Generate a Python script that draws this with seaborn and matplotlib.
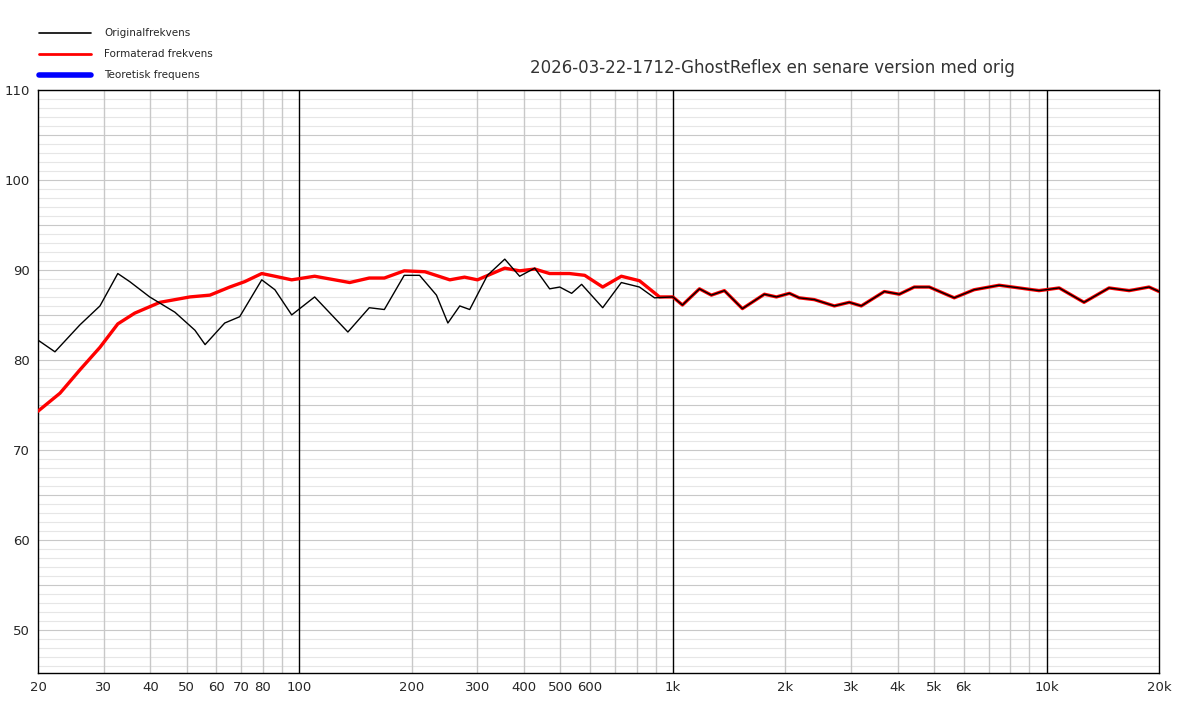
import numpy as np
import pandas as pd
import matplotlib
matplotlib.use("Agg")
import matplotlib.pyplot as plt
import seaborn as sns
from matplotlib.lines import Line2D

orig_f = [20, 22.2, 25.9, 29.3, 32.7, 35.2, 39.8, 46.5, 52.6, 56, 63.2, 69.3, 79.4, 86.1, 95.5,
          110, 135, 154, 169, 191, 210, 233, 250, 269, 286, 319, 355, 389, 427, 468, 498, 536,
          570, 649, 728, 814, 893]
orig_db = [82.2, 80.9, 83.9, 86.0, 89.6, 88.7, 87.0, 85.3, 83.3, 81.7, 84.1, 84.8, 88.9, 87.8, 85.0,
           87.0, 83.1, 85.8, 85.6, 89.4, 89.4, 87.2, 84.1, 86.0, 85.6, 89.4, 91.2, 89.3, 90.2, 87.9,
           88.1, 87.4, 88.4, 85.8, 88.6, 88.1, 86.9]
form_f = [20, 22.9, 25.9, 29.3, 32.7, 36.3, 42.4, 51, 57.7, 65.2, 71.5, 79.4, 86.1, 95.5, 110, 136.5,
          154, 169, 191, 217, 253, 277, 300, 355, 389, 427, 468, 529, 581, 649, 728, 814, 921]
form_db = [74.3, 76.3, 78.9, 81.4, 84.0, 85.2, 86.4, 87.0, 87.2, 88.1, 88.7, 89.6, 89.3, 88.9, 89.3,
           88.6, 89.1, 89.1, 89.9, 89.8, 88.9, 89.2, 88.9, 90.2, 89.9, 90.1, 89.6, 89.6, 89.4, 88.1,
           89.3, 88.8, 87.0]
hi_f = [1000, 1061, 1178, 1268, 1374, 1535, 1758, 1893, 2051, 2178, 2392, 2705, 2966, 3194, 3681,
        4037, 4427, 4855, 5663, 6402, 7468, 8450, 9551, 10810, 12600, 14700, 16640, 18810, 20000]
hi_db = [87.0, 86.1, 87.9, 87.2, 87.7, 85.7, 87.3, 87.0, 87.4, 86.9, 86.7, 86.0, 86.4, 86.0, 87.6,
         87.3, 88.1, 88.1, 86.9, 87.8, 88.3, 88.0, 87.7, 88.0, 86.4, 88.0, 87.7, 88.1, 87.6]
tick_vals = [20, 30, 40, 50, 60, 70, 80, 100, 200, 300, 400, 500, 600, 1000, 2000, 3000, 4000,
             5000, 6000, 10000, 20000]
tick_labels = ["20", "30", "40", "50", "60", "70", "80", "100", "200", "300", "400", "500", "600",
               "1k", "2k", "3k", "4k", "5k", "6k", "10k", "20k"]
title = "2026-03-22-1712-GhostReflex en senare version med orig"

sns.set_style("white")
plt.rcParams['font.family'] = ['DejaVu Sans']

fig = plt.figure(figsize=(12, 7.05), dpi=100)
ax = fig.add_axes([38/1200, 1-673/705, (1159-38)/1200, (673-90)/705])
ax.set_xscale("log")
ax.set_xlim(20, 20000)
ax.set_ylim(45.2, 110)

for d in range(46, 111):
    ax.axhline(d, color="#c8c8c8" if d % 5 == 0 else "#e6e6e6", lw=0.8, zorder=0)
for dec in [10, 100, 1000, 10000]:
    for m in range(1, 10):
        f = dec * m
        if 20 < f < 20000:
            ax.axvline(f, color="black" if m == 1 else "#c8c8c8", lw=1, zorder=0.5)

df_o = pd.DataFrame({"f": orig_f + hi_f, "db": orig_db + hi_db})
df_r = pd.DataFrame({"f": form_f + hi_f, "db": form_db + hi_db})
sns.lineplot(data=df_r, x="f", y="db", ax=ax, color="red", lw=2.4, sort=False, zorder=3)
sns.lineplot(data=df_o, x="f", y="db", ax=ax, color="black", lw=1.0, sort=False, zorder=4)

ax.set_xticks(tick_vals)
ax.set_xticklabels(tick_labels, fontsize=9.5)
ax.xaxis.set_minor_locator(matplotlib.ticker.NullLocator())
ax.set_yticks([50, 60, 70, 80, 90, 100, 110])
ax.set_yticklabels(["50", "60", "70", "80", "90", "100", "110"], fontsize=9.5)
ax.tick_params(length=0, pad=6)
ax.set_xlabel("")
ax.set_ylabel("")
for s in ax.spines.values():
    s.set_color("black")
    s.set_linewidth(1)

fig.text(772/1200, 1-68/705, title, ha="center", va="center", fontsize=12, color="#333333")
handles = [Line2D([], [], color="black", lw=1.2),
           Line2D([], [], color="red", lw=2),
           Line2D([], [], color="blue", lw=4)]
fig.legend(handles, ["Originalfrekvens", "Formaterad frekvens", "Teoretisk frequens"],
           loc="upper left", bbox_to_anchor=(0.025, 0.973), frameon=False, fontsize=7.5,
           handlelength=5, labelspacing=1.05, handletextpad=1.2)
fig.savefig("out.png", dpi=100)
